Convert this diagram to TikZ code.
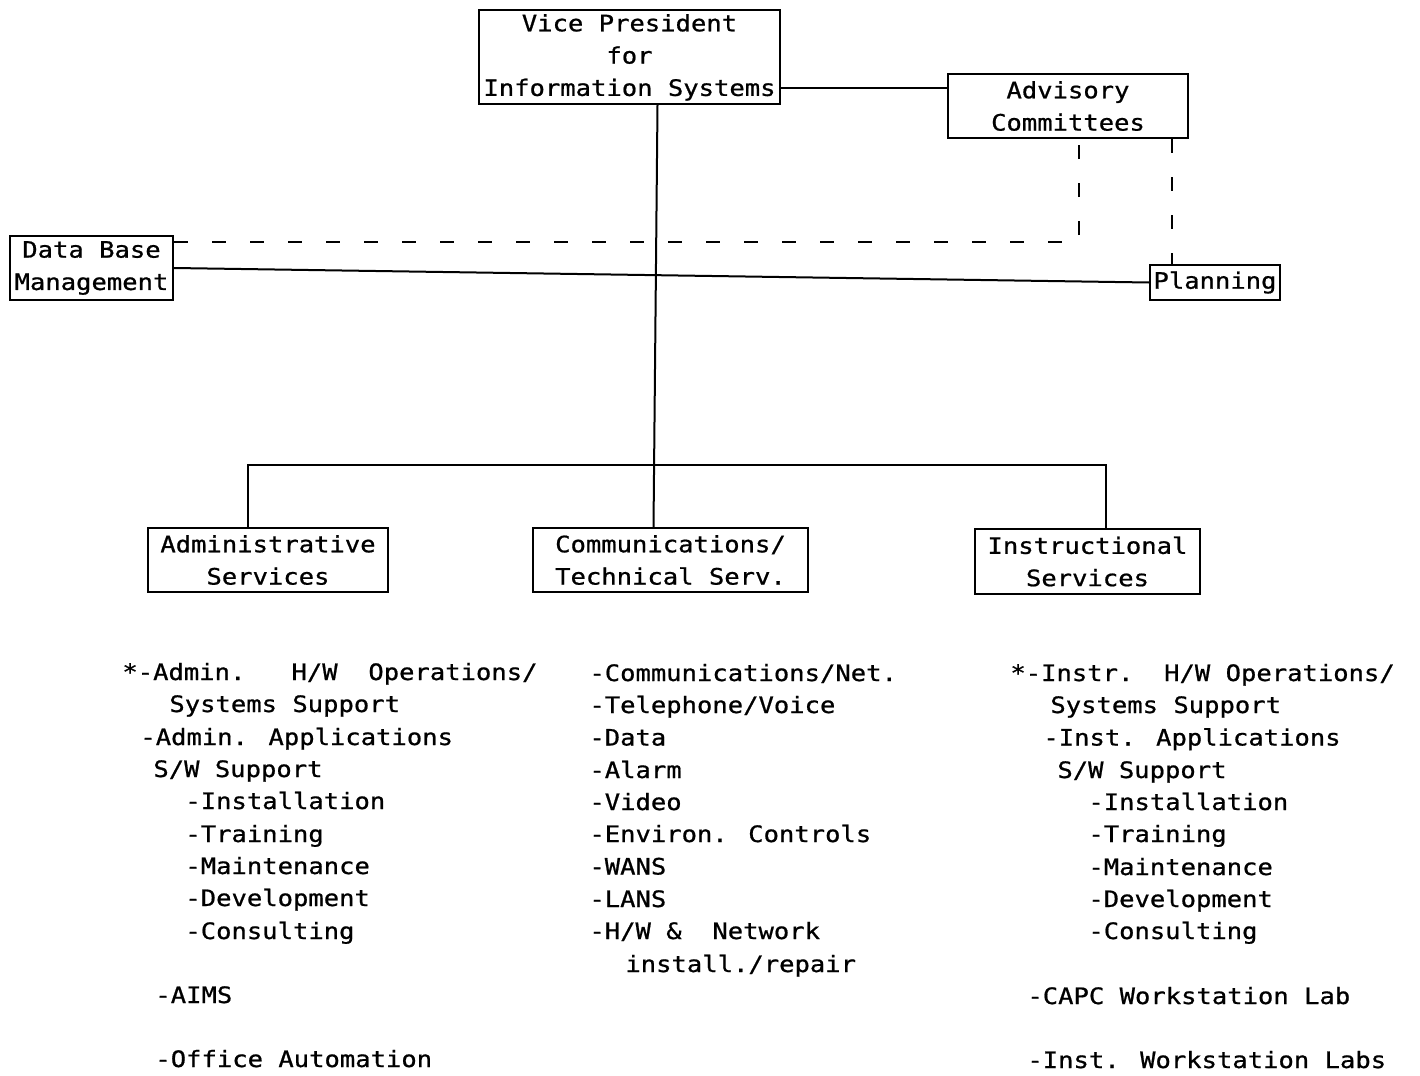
\documentclass[tikz,border=0pt]{standalone}
\usepackage{fontspec}
% typewriter face of the chart: a slightly widened, slightly heavier sans mono
\newfontfamily\tw[FakeStretch=1.13,FakeBold=0.8]{DejaVu Sans Mono}
\newcommand\twsize{\tw\fontsize{11.3}{16.15}\selectfont}
\begin{document}
\begin{tikzpicture}[x=0.5pt,y=-0.5pt,
  box/.style={draw, line width=1pt, inner sep=0pt, align=center, font=\twsize},
  item/.style={anchor=base west, inner sep=0pt, font=\twsize},
  link/.style={line width=1pt},
  dlink/.style={line width=1pt, dash pattern=on 7pt off 12pt}]
\useasboundingbox[fill=white] (0,0) rectangle (1420,1076);

% ---- boxes ----
\node[box, minimum width=150.5pt, minimum height=47pt, text depth=2pt] (vp) at (629.5,57)
  {Vice President\\for\\Information Systems};
\node[box, minimum width=120pt, minimum height=32pt] (adv) at (1068,106)
  {Advisory\\Committees};
\node[box, minimum width=81.5pt, minimum height=32pt] (dbm) at (91.5,268)
  {Data Base\\Management};
\node[box, minimum width=65pt, minimum height=17.5pt] (plan) at (1215,282.5)
  {Planning};
\node[box, minimum width=120pt, minimum height=32pt] (admin) at (268,560)
  {Administrative\\Services};
\node[box, minimum width=137.5pt, minimum height=32pt] (comm) at (670.5,560)
  {Communications/\\Technical Serv.};
\node[box, minimum width=112.5pt, minimum height=32.5pt] (instr) at (1087.5,561.5)
  {Instructional\\Services};

% ---- solid reporting lines ----
\coordinate (advin) at ([yshift=9pt]adv.west);
\draw[link] (advin) -- (advin -| vp.east);
\draw[link] ([xshift=14pt]vp.south) -- ([xshift=-8.5pt]comm.north);
\draw[link] (dbm.east) -- (plan.west);
\coordinate (bus) at (655,465);
\coordinate (ba) at ([xshift=-10pt]admin.north);
\coordinate (bi) at ([xshift=9.25pt]instr.north);
\draw[link] (ba) -- (ba |- bus) -- (bi |- bus) -- (bi);

% ---- dashed advisory lines ----
\coordinate (dd) at ([yshift=13pt]dbm.east);
\coordinate (ad) at ([xshift=5.5pt]adv.south);
\draw[dlink] (dd) -- (dd -| ad) -- (ad);
\coordinate (ap) at ([xshift=52pt]adv.south);
\draw[dlink] (ap) -- (ap |- plan.north);

% ---- administrative services duties ----
\node[item] (a1) at (122,680) {*-Admin.\ \ \ H/W\ \ Operations/};
\node[item] (a2) at (169,712) {Systems Support};
\node[item] (a3) at (140,745) {-Admin. Applications};
\node[item] (a4) at (153,777) {S/W Support};
\node[item] (a5) at (185,809) {-Installation};
\node[item] (a6) at (185,842) {-Training};
\node[item] (a7) at (185,874) {-Maintenance};
\node[item] (a8) at (185,906) {-Development};
\node[item] (a9) at (185,939) {-Consulting};
\node[item] (a10) at (155,1003) {-AIMS};
\node[item] (a11) at (155,1067) {-Office Automation};

% ---- communications / technical duties ----
\node[item] (c1) at (589,681) {-Communications/Net.};
\node[item] (c2) at (589,713) {-Telephone/Voice};
\node[item] (c3) at (589,745.5) {-Data};
\node[item] (c4) at (589,778) {-Alarm};
\node[item] (c5) at (589,810) {-Video};
\node[item] (c6) at (589,842) {-Environ. Controls};
\node[item] (c7) at (589,874.5) {-WANS};
\node[item] (c8) at (589,907) {-LANS};
\node[item] (c9) at (589,939) {-H/W \&\ \ Network};
\node[item] (c10) at (625,972) {install./repair};

% ---- instructional services duties ----
\node[item] (i1) at (1010,681) {*-Instr.\ \ H/W Operations/};
\node[item] (i2) at (1050,713) {Systems Support};
\node[item] (i3) at (1043,745.5) {-Inst. Applications};
\node[item] (i4) at (1057,778) {S/W Support};
\node[item] (i5) at (1088,810) {-Installation};
\node[item] (i6) at (1088,842) {-Training};
\node[item] (i7) at (1088,875) {-Maintenance};
\node[item] (i8) at (1088,907) {-Development};
\node[item] (i9) at (1088,939) {-Consulting};
\node[item] (i10) at (1027,1004) {-CAPC Workstation Lab};
\node[item] (i11) at (1027,1068) {-Inst. Workstation Labs};
\end{tikzpicture}
\end{document}
